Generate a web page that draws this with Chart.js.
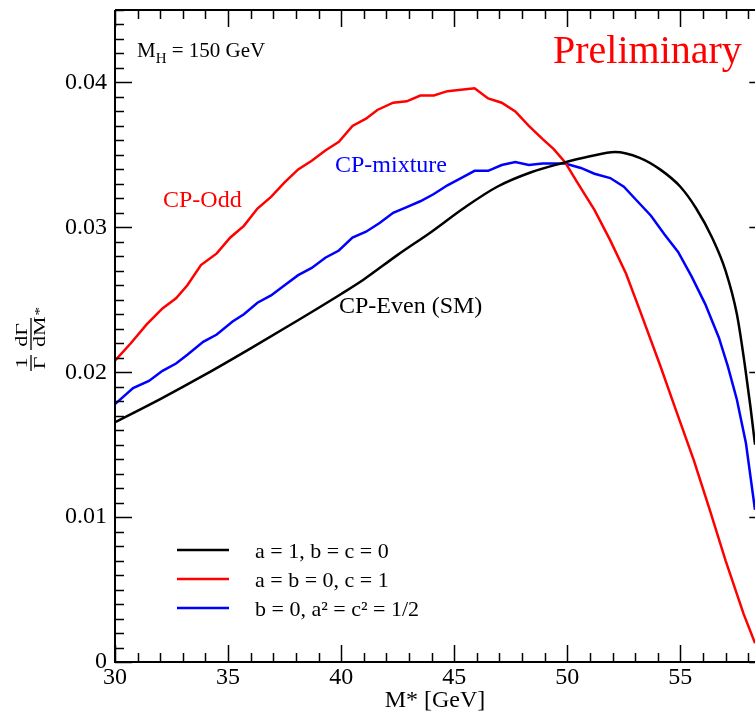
<!DOCTYPE html>
<html>
<head>
<meta charset="utf-8">
<script src="https://cdn.jsdelivr.net/npm/chart.js@4.4.1/dist/chart.umd.min.js"></script>
<style>
  html, body { margin: 0; padding: 0; background: #fff; overflow: hidden; }
  #wrap { width: 755px; height: 717px; }
</style>
</head>
<body>
<div id="wrap"><canvas id="chart" width="755" height="717"></canvas></div>
<script>
// 1/Gamma dGamma/dM* for M_H = 150 GeV, three CP hypotheses

const SERIF = "'Liberation Serif', 'DejaVu Serif', serif";

// CP-even (SM): a = 1, b = c = 0
const massEven = [30, 32, 34, 36, 38, 40, 41, 42.5, 44, 45.4, 46.9, 48.4, 49.7, 51, 52.1, 53.2,
    54.1, 55, 55.7, 56.4, 57, 57.5, 57.85, 58.1, 58.3];
const rateEven = [0.01655, 0.01815, 0.01985, 0.02165, 0.0235, 0.0254, 0.0264, 0.0281, 0.0297, 0.0313,
    0.0328, 0.0338, 0.0344, 0.0349, 0.0352, 0.0348, 0.0340, 0.0328, 0.0313, 0.0293, 0.0270, 0.0240,
    0.0205, 0.0176, 0.0150];

// CP-odd: a = b = 0, c = 1
const massOdd = [30, 30.7, 31.4, 32.1, 32.7, 33.2, 33.8, 34.5, 35.1, 35.7, 36.3, 36.9, 37.5, 38.1,
    38.7, 39.3, 39.9, 40.5, 41.1, 41.6, 42.3, 42.9, 43.5, 44.1, 44.7, 45.3, 45.9, 46.5, 47.1, 47.7,
    48.3, 48.9, 49.4, 49.9, 50.4, 51.2, 51.9, 52.6, 53.2, 54.1, 54.8, 55.6, 56.3, 57.0, 57.8, 58.3];
const rateOdd = [0.0208, 0.0220, 0.0233, 0.0244, 0.0251, 0.0260, 0.0274, 0.0282, 0.0293, 0.0301,
    0.0313, 0.0321, 0.0331, 0.0340, 0.0346, 0.0353, 0.0359, 0.0370, 0.0375, 0.0381, 0.0386, 0.0387,
    0.0391, 0.0391, 0.0394, 0.0395, 0.0396, 0.0389, 0.0386, 0.0380, 0.0370, 0.0361, 0.0354, 0.0345,
    0.0332, 0.0312, 0.0291, 0.0268, 0.0243, 0.0205, 0.0174, 0.0139, 0.0105, 0.0070, 0.0033, 0.0013];

// CP-mixture: b = 0, a^2 = c^2 = 1/2
const massMix = [30, 30.8, 31.5, 32.1, 32.7, 33.2, 33.9, 34.5, 35.2, 35.7, 36.3, 36.9, 37.5, 38.1,
    38.7, 39.3, 39.9, 40.5, 41.1, 41.7, 42.3, 42.9, 43.5, 44.1, 44.7, 45.3, 45.9, 46.5, 47.1, 47.7,
    48.3, 48.9, 49.9, 50.6, 51.2, 51.9, 52.5, 53.1, 53.7, 54.3, 54.9, 55.5, 56.1, 56.7, 57.1, 57.5,
    57.9, 58.3];
const rateMix = [0.0178, 0.0189, 0.0194, 0.0201, 0.0206, 0.0212, 0.0221, 0.0226, 0.0235, 0.0240,
    0.0248, 0.0253, 0.0260, 0.0267, 0.0272, 0.0279, 0.0284, 0.0293, 0.0297, 0.0303, 0.0310, 0.0314,
    0.0318, 0.0323, 0.0329, 0.0334, 0.0339, 0.0339, 0.0343, 0.0345, 0.0343, 0.0344, 0.0344, 0.0341,
    0.0337, 0.0334, 0.0328, 0.0318, 0.0308, 0.0295, 0.0283, 0.0266, 0.0247, 0.0224, 0.0204, 0.0181,
    0.0151, 0.0105];

const legendNames = ['a = 1, b = c = 0', 'a = b = 0, c = 1', 'b = 0, a\u00b2 = c\u00b2 = 1/2'];
const curveNames = ['CP-Even (SM)', 'CP-Odd', 'CP-mixture'];
const lineColors = ['#000000', '#ff0000', '#0000ff'];
const xTickValues = [30, 35, 40, 45, 50, 55];
const yTickValues = [0, 0.01, 0.02, 0.03, 0.04];

function toPoints(xs, ys) {
    return xs.map((x, i) => ({ x: x, y: ys[i] }));
}

// frame with inward ticks on all four sides, text labels and the legend
const decorPlugin = {
    id: 'decor',
    afterDraw(chart) {
        const ctx = chart.ctx;
        const area = chart.chartArea;
        const xs = chart.scales.x;
        const ys = chart.scales.y;
        const right = xs.getPixelForValue(58.8); // right frame sits just past the picture edge

        ctx.save();
        ctx.strokeStyle = '#000';
        ctx.lineWidth = 2;
        ctx.beginPath();
        ctx.moveTo(area.left, area.top);
        ctx.lineTo(area.left, area.bottom);
        ctx.lineTo(right, area.bottom);
        ctx.moveTo(area.left, area.top);
        ctx.lineTo(right, area.top);
        ctx.stroke();

        ctx.lineWidth = 1.5;
        ctx.beginPath();
        for (let v = 30; v <= 58; v++) {
            const px = Math.round(xs.getPixelForValue(v)) + 0.5;
            const len = v % 5 === 0 ? 17 : 9;
            ctx.moveTo(px, area.bottom);
            ctx.lineTo(px, area.bottom - len);
            ctx.moveTo(px, area.top);
            ctx.lineTo(px, area.top + len);
        }
        for (let i = 0; i <= 45; i++) {
            const py = Math.round(ys.getPixelForValue(i / 1000)) + 0.5;
            const len = i % 10 === 0 ? 17 : 9;
            ctx.moveTo(area.left, py);
            ctx.lineTo(area.left + len, py);
            ctx.moveTo(right, py);
            ctx.lineTo(right - len, py);
        }
        ctx.stroke();

        // texts
        ctx.textBaseline = 'alphabetic';
        ctx.textAlign = 'left';
        ctx.fillStyle = '#000';
        ctx.font = '21px ' + SERIF;
        ctx.fillText('M', 137, 57);
        let w = ctx.measureText('M').width;
        ctx.font = '15px ' + SERIF;
        ctx.fillText('H', 137 + w, 63);
        w += ctx.measureText('H').width;
        ctx.font = '21px ' + SERIF;
        ctx.fillText(' = 150 GeV', 137 + w, 57);

        ctx.fillStyle = '#ff0000';
        ctx.font = '40px ' + SERIF;
        ctx.fillText('Preliminary', 553, 63);

        ctx.font = '24px ' + SERIF;
        ctx.fillStyle = lineColors[1];
        ctx.fillText(curveNames[1], 163, 207);
        ctx.fillStyle = lineColors[2];
        ctx.fillText(curveNames[2], 335, 172);
        ctx.fillStyle = lineColors[0];
        ctx.fillText(curveNames[0], 339, 313);

        // legend
        ctx.font = '22px ' + SERIF;
        legendNames.forEach((name, i) => {
            const y = 550 + i * 29;
            ctx.strokeStyle = lineColors[i];
            ctx.lineWidth = 2.5;
            ctx.beginPath();
            ctx.moveTo(177, y);
            ctx.lineTo(229, y);
            ctx.stroke();
            ctx.fillStyle = '#000';
            ctx.fillText(name, 255, y + 8);
        });

        // y axis title: (1/Gamma) dGamma/dM*, glyphs a bit squeezed like the original
        ctx.translate(31, 335);
        ctx.rotate(-Math.PI / 2);
        ctx.strokeStyle = '#000';
        ctx.lineWidth = 1.3;
        ctx.beginPath();
        ctx.moveTo(-36, 0);
        ctx.lineTo(-20, 0);
        ctx.moveTo(-15, 0);
        ctx.lineTo(17, 0);
        ctx.stroke();
        const sq = 0.72;
        ctx.scale(1, sq);
        ctx.fillStyle = '#000';
        ctx.font = '22px ' + SERIF;
        ctx.textAlign = 'center';
        ctx.fillText('1', -28, -4 / sq);
        ctx.fillText('\u0393', -28, 14 / sq);
        ctx.fillText('d\u0393', 0, -4 / sq);
        ctx.textAlign = 'left';
        ctx.fillText('dM', -12, 14 / sq);
        const dmW = ctx.measureText('dM').width;
        ctx.font = '17px ' + SERIF;
        ctx.fillText('*', -12 + dmW + 1, 12 / sq);
        ctx.restore();
    }
};

const chart = new Chart(document.getElementById('chart').getContext('2d'), {
    type: 'line',
    data: {
        datasets: [
            { label: legendNames[0], data: toPoints(massEven, rateEven), borderColor: lineColors[0],
              borderWidth: 2.5, pointRadius: 0, tension: 0, cubicInterpolationMode: 'monotone' },
            { label: legendNames[1], data: toPoints(massOdd, rateOdd), borderColor: lineColors[1],
              borderWidth: 2.5, pointRadius: 0, tension: 0 },
            { label: legendNames[2], data: toPoints(massMix, rateMix), borderColor: lineColors[2],
              borderWidth: 2.5, pointRadius: 0, tension: 0 }
        ]
    },
    options: {
        responsive: false,
        animation: false,
        layout: { padding: { top: 10, right: 0, left: 0, bottom: 0 } },
        plugins: { legend: { display: false }, tooltip: { enabled: false } },
        scales: {
            x: {
                type: 'linear',
                min: 30,
                max: 58.3,
                grid: { display: false, drawTicks: false },
                border: { display: false },
                afterBuildTicks: (scale) => { scale.ticks = xTickValues.map(v => ({ value: v })); },
                afterFit: (scale) => { scale.height = 55; },
                ticks: {
                    color: '#000',
                    padding: 1,
                    maxRotation: 0,
                    font: { family: SERIF, size: 24 },
                    callback: (v) => String(v)
                },
                title: {
                    display: true,
                    text: 'M* [GeV]',
                    color: '#000',
                    padding: { top: 0, bottom: 2 },
                    font: { family: SERIF, size: 24 }
                }
            },
            y: {
                min: 0,
                max: 0.045,
                grid: { display: false, drawTicks: false },
                border: { display: false },
                afterBuildTicks: (scale) => { scale.ticks = yTickValues.map(v => ({ value: v })); },
                afterFit: (scale) => {
                    scale.width = 115;
                    scale.paddingTop = 0;
                    scale.paddingBottom = 0;
                },
                ticks: {
                    color: '#000',
                    padding: 8,
                    font: { family: SERIF, size: 24 },
                    callback: (v) => v === 0 ? '0' : v.toFixed(2)
                }
            }
        }
    },
    plugins: [decorPlugin]
});
</script>
</body>
</html>
